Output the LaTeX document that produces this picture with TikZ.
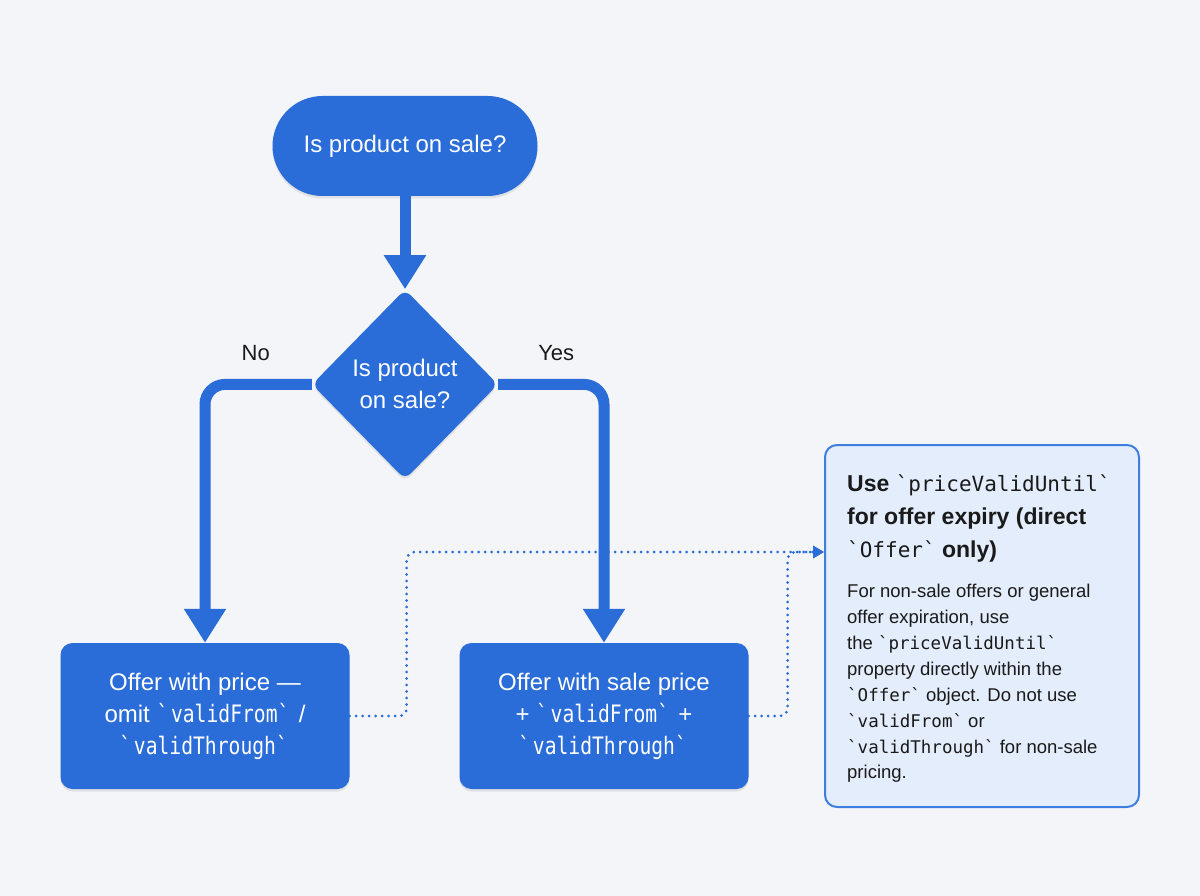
\documentclass[tikz,border=0pt]{standalone}
\usepackage{fontspec}
\setmainfont{Liberation Sans}
\setmonofont{DejaVu Sans Mono}
\newfontfamily\narrowmono[FakeStretch=0.82]{DejaVu Sans Mono}
\usetikzlibrary{positioning,shapes.geometric,arrows.meta,shadows}

\definecolor{pagebg}{HTML}{F3F5F9}
\definecolor{flowblue}{HTML}{2A6CD8}
\definecolor{notefill}{HTML}{E3EDFB}
\definecolor{noteline}{HTML}{3C7FE0}
\definecolor{inktext}{HTML}{1A1A1A}

\newcommand{\bq}[1]{\textasciigrave#1\textasciigrave}

\tikzset{
  softshadow/.style={drop shadow={shadow xshift=0pt, shadow yshift=-2.5pt, opacity=0.08, fill=black}},
  startbox/.style={fill=flowblue, text=white, rounded corners=50pt, minimum width=265pt,
    minimum height=100pt, font=\fontsize{24}{30}\selectfont, softshadow},
  decision/.style={diamond, fill=flowblue, text=white, rounded corners=8pt, inner sep=0pt,
    minimum width=186pt, minimum height=190pt, align=center,
    font=\fontsize{24}{32}\selectfont, softshadow},
  offerbox/.style={fill=flowblue, text=white, rounded corners=12pt, minimum width=289pt,
    minimum height=146pt, align=center, font=\fontsize{24}{32}\selectfont, softshadow},
  notebox/.style={fill=notefill, draw=noteline, line width=2pt, rounded corners=12pt,
    minimum width=314pt, minimum height=362pt},
  branchlabel/.style={text=inktext, font=\fontsize{22}{26}\selectfont},
  flow/.style={draw=flowblue, line width=11pt, -{Triangle[width=40pt,length=34pt]}},
  hint/.style={draw=flowblue, line width=3pt, line cap=round, dash pattern=on 0pt off 6.5pt,
    rounded corners=8pt, -{Triangle[width=12pt,length=11pt]}},
}

\begin{document}
\begin{tikzpicture}[x=1pt, y=1pt, node distance=93pt]

  % page
  \fill[pagebg] (0,0) rectangle (1200,-896);
  \useasboundingbox (0,0) rectangle (1200,-896);

  % Question
  \node[startbox] (start) at (405,-146) {Is product on sale?};
  \node[decision] (dec) [below=of start] {Is product\\on sale?};

  % Outcomes
  \node[offerbox] (nosale) at (205,-716)
    {Offer with price —\\omit {\narrowmono\bq{validFrom}} /\\{\narrowmono\bq{validThrough}}};
  \node[offerbox] (saleoffer) at (604,-716)
    {Offer with sale price\\+ {\narrowmono\bq{validFrom}} +\\{\narrowmono\bq{validThrough}}};

  % Note panel
  \node[notebox] (note) at (982,-626) {};
  \node[anchor=north west, inner sep=0pt, align=left, text=inktext,
    font=\fontsize{23}{33}\selectfont\bfseries] (notetitle) at ([xshift=23pt,yshift=-31pt]note.north west)
    {Use {\fontsize{21}{33}\selectfont\mdseries\ttfamily\bq{priceValidUntil}}\\
     for offer expiry (direct\\
     {\fontsize{21}{33}\selectfont\mdseries\ttfamily\bq{Offer}} only)};
  \node[anchor=north west, inner sep=0pt, align=left, text=inktext,
    font=\fontsize{18.5}{25.9}\selectfont] (notebody) at ([xshift=23pt,yshift=-140pt]note.north west)
    {For non-sale offers or general\\
     offer expiration, use\\
     the {\fontsize{17.5}{25.9}\selectfont\ttfamily\bq{priceValidUntil}}\\
     property directly within the\\
     {\fontsize{17.5}{25.9}\selectfont\ttfamily\bq{Offer}} object. Do not use\\
     {\fontsize{17.5}{25.9}\selectfont\ttfamily\bq{validFrom}} or\\
     {\fontsize{17.5}{25.9}\selectfont\ttfamily\bq{validThrough}} for non-sale\\
     pricing.};

  % Branch labels
  \node[branchlabel] (nolabel) at ([xshift=-56pt,yshift=31pt]dec.west) {No};
  \node[branchlabel] (yeslabel) at ([xshift=58pt,yshift=31pt]dec.east) {Yes};

  % Arrows
  \draw[flow] (start) -- (dec);
  \draw[flow, rounded corners=20pt] (dec.west) -| (nosale.north);
  \draw[flow, rounded corners=20pt] (dec.east) -| (saleoffer.north);

  % Dotted hints to the note
  \coordinate (notein) at (note.west |- 0,-552);
  \draw[hint] (nosale.east) -- ++(57,0) |- (notein);
  \draw[hint] (saleoffer.east) -- ++(39,0) |- (notein);

\end{tikzpicture}
\end{document}
